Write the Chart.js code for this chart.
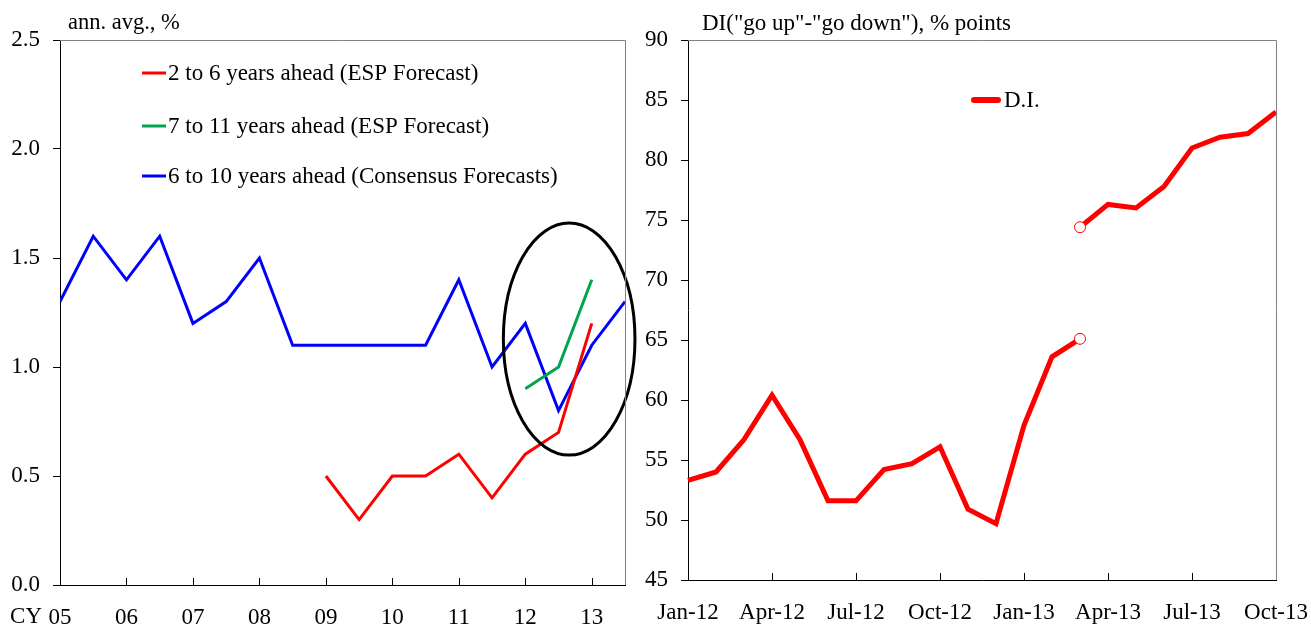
<!DOCTYPE html>
<html>
<head>
<meta charset="utf-8">
<script src="https://cdn.jsdelivr.net/npm/chart.js@4.4.1/dist/chart.umd.min.js"></script>
<style>
  html, body { margin: 0; padding: 0; background: #fff; }
  body { width: 1311px; height: 628px; position: relative; overflow: hidden; }
  .box { position: absolute; top: 0; height: 628px; }
  #leftBox { left: 0; width: 650px; }
  #rightBox { left: 640px; width: 671px; }
</style>
</head>
<body>
<div class="box" id="leftBox"><canvas id="leftChart"></canvas></div>
<div class="box" id="rightBox"><canvas id="rightChart"></canvas></div>
<script>
// --- Left panel data (half-yearly, CY 2005 - 2013 H2) ---
const halfYears = [2005, 2005.5, 2006, 2006.5, 2007, 2007.5, 2008, 2008.5, 2009,
                   2009.5, 2010, 2010.5, 2011, 2011.5, 2012, 2012.5, 2013, 2013.5];
const consensus6to10 = [1.3, 1.6, 1.4, 1.6, 1.2, 1.3, 1.5, 1.1, 1.1,
                        1.1, 1.1, 1.1, 1.4, 1.0, 1.2, 0.8, 1.1, 1.3];
const esp2to6Start = 2009;
const esp2to6 = [0.5, 0.3, 0.5, 0.5, 0.6, 0.4, 0.6, 0.7, 1.2];
const esp7to11Start = 2012;
const esp7to11 = [0.9, 1.0, 1.4];
const leftXTicks = [2005, 2006, 2007, 2008, 2009, 2010, 2011, 2012, 2013];
const leftYTicks = [0.0, 0.5, 1.0, 1.5, 2.0, 2.5];

// --- Right panel data (monthly D.I.) ---
const months = ['Jan-12', 'Feb-12', 'Mar-12', 'Apr-12', 'May-12', 'Jun-12', 'Jul-12', 'Aug-12',
                'Sep-12', 'Oct-12', 'Nov-12', 'Dec-12', 'Jan-13', 'Feb-13', 'Mar-13', 'Apr-13',
                'May-13', 'Jun-13', 'Jul-13', 'Aug-13', 'Sep-13', 'Oct-13'];
const diOld = [53.3, 54.0, 56.7, 60.4, 56.7, 51.6, 51.6, 54.2, 54.7, 56.1, 50.9, 49.7, 57.9, 63.6, 65.1];
const diNewStart = 'Mar-13';
const diNew = [74.4, 76.3, 76.0, 77.8, 81.0, 81.9, 82.2, 84.0];
const rightYTicks = [45, 50, 55, 60, 65, 70, 75, 80, 85, 90];

const FONT = '"Liberation Serif", "Times New Roman", serif';
Chart.defaults.font.family = FONT;
Chart.defaults.color = '#000';

const fromStart = (start, vals) => {
    const i0 = halfYears.indexOf(start);
    return vals.map((v, i) => ({ x: halfYears[i0 + i], y: v }));
};

// frame: grey top/right border + inward x ticks
const framePlugin = (tickValues) => ({
    id: 'frame',
    afterDraw(chart) {
        const { ctx, chartArea: a, scales } = chart;
        ctx.save();
        ctx.strokeStyle = '#808080';
        ctx.lineWidth = 1;
        ctx.beginPath();
        ctx.moveTo(a.left, a.top + 0.5);
        ctx.lineTo(a.right + 0.5, a.top + 0.5);
        ctx.lineTo(a.right + 0.5, a.bottom);
        ctx.stroke();
        ctx.strokeStyle = '#000';
        ctx.beginPath();
        tickValues(chart).forEach(v => {
            const x = Math.round(scales.x.getPixelForValue(v)) + 0.5;
            ctx.moveTo(x, a.bottom);
            ctx.lineTo(x, a.bottom - 7);
        });
        ctx.stroke();
        ctx.restore();
    }
});

const textPlugin = (items) => ({
    id: 'texts',
    afterDraw(chart) {
        const ctx = chart.ctx;
        ctx.save();
        ctx.fillStyle = '#000';
        ctx.textBaseline = 'alphabetic';
        items.forEach(t => {
            ctx.font = t.size + 'px ' + FONT;
            ctx.textAlign = t.align || 'left';
            ctx.fillText(t.text, t.x, t.y);
        });
        ctx.restore();
    }
});

const legendPlugin = (rows, lineWidth, x0, x1, gap) => ({
    id: 'customLegend',
    afterDraw(chart) {
        const ctx = chart.ctx;
        ctx.save();
        ctx.font = '23px ' + FONT;
        ctx.textBaseline = 'middle';
        ctx.textAlign = 'left';
        rows.forEach(r => {
            const ds = chart.data.datasets[r.index];
            ctx.strokeStyle = ds.borderColor;
            ctx.lineWidth = lineWidth;
            ctx.lineCap = lineWidth > 4 ? 'round' : 'butt';
            ctx.beginPath();
            ctx.moveTo(x0, r.y);
            ctx.lineTo(x1, r.y);
            ctx.stroke();
            ctx.fillStyle = '#000';
            ctx.fillText(ds.label, x1 + gap, r.y + 1);
        });
        ctx.restore();
    }
});

const ellipsePlugin = {
    id: 'ellipse',
    afterDatasetsDraw(chart) {
        const { ctx, scales } = chart;
        const cx = scales.x.getPixelForValue(2012.66);
        const cy = scales.y.getPixelForValue(1.128);
        const rx = cx - scales.x.getPixelForValue(2012.66 - 0.99);
        const ry = scales.y.getPixelForValue(1.128 - 0.532) - cy;
        ctx.save();
        ctx.strokeStyle = '#000';
        ctx.lineWidth = 3;
        ctx.beginPath();
        ctx.ellipse(cx, cy, rx, ry, 0, 0, Math.PI * 2);
        ctx.stroke();
        ctx.restore();
    }
};

const noSidePad = s => { s.paddingLeft = 0; s.paddingRight = 0; };

// --- Left chart ---
new Chart(document.getElementById('leftChart'), {
    type: 'line',
    data: {
        datasets: [
            { label: '2 to 6 years ahead (ESP Forecast)', data: fromStart(esp2to6Start, esp2to6),
              borderColor: '#ff0000', borderWidth: 3, pointRadius: 0, order: 0 },
            { label: '7 to 11 years ahead (ESP Forecast)', data: fromStart(esp7to11Start, esp7to11),
              borderColor: '#00a550', borderWidth: 3, pointRadius: 0, order: 1 },
            { label: '6 to 10 years ahead (Consensus Forecasts)', data: fromStart(2005, consensus6to10),
              borderColor: '#0000ff', borderWidth: 3, pointRadius: 0, order: 2 }
        ]
    },
    options: {
        responsive: true,
        maintainAspectRatio: false,
        animation: false,
        layout: { padding: { top: 40, right: 25, left: 0, bottom: 0 } },
        plugins: { legend: { display: false }, tooltip: { enabled: false } },
        scales: {
            x: {
                type: 'linear', min: 2005, max: 2013.5,
                afterBuildTicks: s => { s.ticks = leftXTicks.map(v => ({ value: v })); },
                grid: { display: false, drawTicks: false },
                border: { color: '#000', width: 1 },
                ticks: {
                    autoSkip: false, maxRotation: 0, padding: 19,
                    font: { size: 23 },
                    callback: v => String(v).slice(2)
                },
                afterFit: s => { s.height = 43; noSidePad(s); }
            },
            y: {
                min: 0, max: 2.5,
                afterBuildTicks: s => { s.ticks = leftYTicks.map(v => ({ value: v })); },
                grid: { drawOnChartArea: false, tickLength: 7, color: '#000' },
                border: { color: '#000', width: 1 },
                ticks: { padding: 13, font: { size: 23 }, callback: v => v.toFixed(1) },
                afterFit: s => { s.width = 60; }
            }
        }
    },
    plugins: [
        framePlugin(() => leftXTicks.filter(v => v > 2005)),
        ellipsePlugin,
        legendPlugin([{ index: 0, y: 73 }, { index: 1, y: 126 }, { index: 2, y: 176 }], 3, 142, 166, 2),
        textPlugin([
            { text: 'ann. avg., %', x: 68, y: 29, size: 22.5 },
            { text: 'CY', x: 42, y: 623, size: 23, align: 'right' }
        ])
    ]
});

// --- Right chart ---
const newStartIdx = months.indexOf(diNewStart);
const diOldData = months.map((m, i) => i < diOld.length ? diOld[i] : null);
const diNewData = months.map((m, i) => i >= newStartIdx ? diNew[i - newStartIdx] : null);
const circleAt = (idx) => months.map((m, i) => i === idx ? 5.5 : 0);

new Chart(document.getElementById('rightChart'), {
    type: 'line',
    data: {
        labels: months,
        datasets: [
            { label: 'D.I.', data: diOldData, borderColor: '#ff0000', borderWidth: 5,
              pointRadius: circleAt(diOld.length - 1), pointBackgroundColor: '#fff',
              pointBorderColor: '#ff0000', pointBorderWidth: 1, spanGaps: false },
            { label: 'D.I.', data: diNewData, borderColor: '#ff0000', borderWidth: 5,
              pointRadius: circleAt(newStartIdx), pointBackgroundColor: '#fff',
              pointBorderColor: '#ff0000', pointBorderWidth: 1, spanGaps: false }
        ]
    },
    options: {
        responsive: true,
        maintainAspectRatio: false,
        animation: false,
        layout: { padding: { top: 40, right: 35, left: 0, bottom: 0 } },
        plugins: { legend: { display: false }, tooltip: { enabled: false } },
        scales: {
            x: {
                type: 'category', offset: false,
                grid: { display: false, drawTicks: false },
                border: { color: '#000', width: 1 },
                ticks: {
                    autoSkip: false, maxRotation: 0, padding: 19, font: { size: 23 },
                    callback: function (v, i) { return i % 3 === 0 ? this.getLabelForValue(v) : ''; }
                },
                afterFit: s => { s.height = 48; noSidePad(s); }
            },
            y: {
                min: 45, max: 90,
                afterBuildTicks: s => { s.ticks = rightYTicks.map(v => ({ value: v })); },
                grid: { drawOnChartArea: false, tickLength: 7, color: '#000' },
                border: { color: '#000', width: 1 },
                ticks: { padding: 13, font: { size: 23 } },
                afterFit: s => { s.width = 48; }
            }
        }
    },
    plugins: [
        framePlugin(() => months.map((m, i) => i).filter(i => i > 0 && i % 3 === 0 && i < months.length - 1)),
        legendPlugin([{ index: 0, y: 100 }], 6, 334, 358, 6),
        textPlugin([{ text: 'DI("go up"-"go down"), % points', x: 62, y: 30, size: 23 }])
    ]
});
</script>
</body>
</html>
